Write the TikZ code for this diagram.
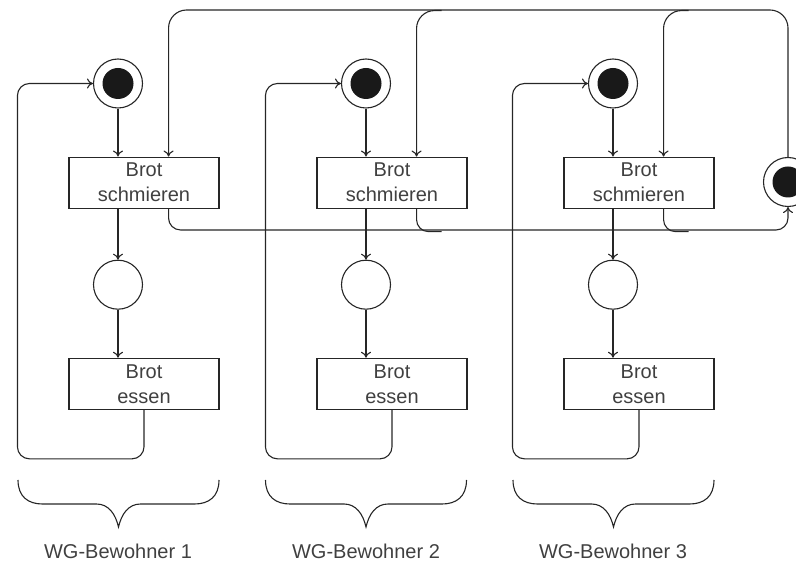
\documentclass[tikz,border=0pt]{standalone}
\usepackage{fontspec}
\setmainfont{Liberation Sans}
\usetikzlibrary{arrows.meta, positioning}

\begin{document}
\begin{tikzpicture}[
      x=1pt, y=-1pt,
      font=\fontsize{20}{25}\selectfont,
      place/.style={circle, draw=black!85, line width=1.1pt, fill=white, minimum size=49pt, inner sep=0pt},
      marked/.style={place, path picture={\fill[black!90] (path picture bounding box.center) circle (15.5pt);}},
      trans/.style={rectangle, draw=black!85, line width=1.1pt, minimum width=150pt, minimum height=51pt, inner sep=0pt, align=center, text=black!75},
      arrow/.style={-{To[length=6pt,width=10pt]}, line width=1.1pt, black!85},
      wire/.style={line width=1.1pt, black!85},
      wg/.style={text=black!75},
      klammer/.pic={
        \draw[wire] (-100.5,0) .. controls (-100.5,17) and (-90,24) .. (-76,24) -- (-22,24)
          .. controls (-10,24) and (-3,34) .. (0,47) .. controls (3,34) and (10,24) .. (22,24)
          -- (76,24) .. controls (90,24) and (100.5,17) .. (100.5,0);
      }
    ]
    \useasboundingbox (0,0) rectangle (796,561);
    \coordinate (top) at (0,10);
    \coordinate (bot) at (0,230);

    % WG-Bewohner 1
    \node[marked] (p1) at (118,83.5) {};
    \node[trans, below=48pt of p1, xshift=26pt] (s1) {Brot\\schmieren};
    \node[place, below=51pt of s1, xshift=-26pt] (m1) {};
    \node[trans, below=48pt of m1, xshift=26pt] (e1) {Brot\\essen};

    % WG-Bewohner 2
    \node[marked] (p2) at (366,83.5) {};
    \node[trans, below=48pt of p2, xshift=26pt] (s2) {Brot\\schmieren};
    \node[place, below=51pt of s2, xshift=-26pt] (m2) {};
    \node[trans, below=48pt of m2, xshift=26pt] (e2) {Brot\\essen};

    % WG-Bewohner 3
    \node[marked] (p3) at (613,83.5) {};
    \node[trans, below=48pt of p3, xshift=26pt] (s3) {Brot\\schmieren};
    \node[place, below=51pt of s3, xshift=-26pt] (m3) {};
    \node[trans, below=48pt of m3, xshift=26pt] (e3) {Brot\\essen};

    % shared place
    \node[marked] (r) at (788,182) {};

    \coordinate (in1) at ([xshift=-51pt]s1.north east);
    \coordinate (in2) at ([xshift=-51pt]s2.north east);
    \coordinate (in3) at ([xshift=-51pt]s3.north east);
    \coordinate (out1) at ([xshift=-51pt]s1.south east);
    \coordinate (out2) at ([xshift=-51pt]s2.south east);
    \coordinate (out3) at ([xshift=-51pt]s3.south east);

    % each column
    \draw[arrow] (p1) -- (p1 |- s1.north);
    \draw[arrow] (s1.south -| m1) -- (m1);
    \draw[arrow] (m1) -- (m1 |- e1.north);
    \draw[arrow, rounded corners=12pt] (e1.south) -- ++(0,49) -| ([xshift=-75.5pt]p1.west) -- (p1);

    \draw[arrow] (p2) -- (p2 |- s2.north);
    \draw[arrow] (s2.south -| m2) -- (m2);
    \draw[arrow] (m2) -- (m2 |- e2.north);
    \draw[arrow, rounded corners=12pt] (e2.south) -- ++(0,49) -| ([xshift=-75.5pt]p2.west) -- (p2);

    \draw[arrow] (p3) -- (p3 |- s3.north);
    \draw[arrow] (s3.south -| m3) -- (m3);
    \draw[arrow] (m3) -- (m3 |- e3.north);
    \draw[arrow, rounded corners=12pt] (e3.south) -- ++(0,49) -| ([xshift=-75.5pt]p3.west) -- (p3);

    % bread loop over the top and back along the bottom
    \draw[arrow, rounded corners=18pt] (r.north) |- (in1 |- top) -- (in1);
    \draw[arrow, rounded corners=18pt] ([shift={(25,-146)}]in2) -| (in2);
    \draw[arrow, rounded corners=18pt] ([shift={(25,-146)}]in3) -| (in3);
    \draw[arrow, rounded corners=12pt] (out1) |- (r |- bot) -- (r.south);
    \draw[wire, rounded corners=12pt] (out2) |- ++(25,23);
    \draw[wire, rounded corners=12pt] (out3) |- ++(25,23);

    % braces and labels
    \pic at (118.5,480) {klammer};
    \pic at (366,480) {klammer};
    \pic at (613.5,480) {klammer};
    \node[wg] (w1) at (118,551) {WG-Bewohner 1};
    \node[wg] (w2) at (366,551) {WG-Bewohner 2};
    \node[wg] (w3) at (613,551) {WG-Bewohner 3};
  \end{tikzpicture}
\end{document}
